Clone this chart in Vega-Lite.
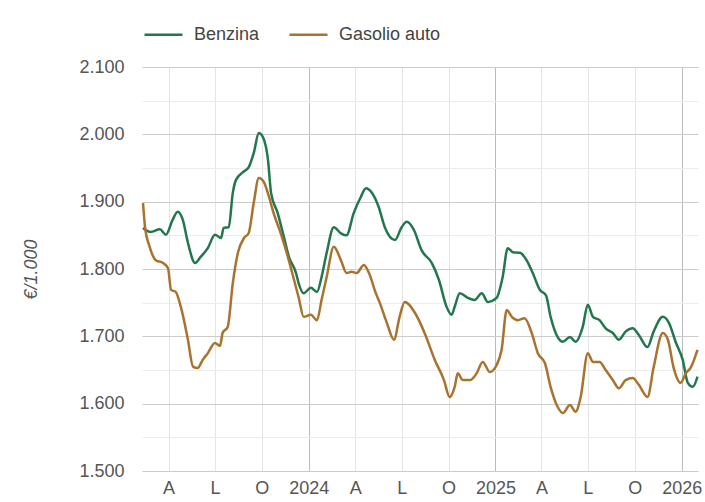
{
  "$schema": "https://vega.github.io/schema/vega-lite/v6.json",
  "width": 556,
  "height": 404,
  "autosize": {"type": "none"},
  "padding": {"left": 142, "top": 67, "right": 7, "bottom": 31},
  "config": {"view": {"stroke": null}, "font": "Arial, Liberation Sans, sans-serif", "background": "white"},
  "datasets": {
    "fuel": [
      {"d": "2023-02-10", "s": "Benzina", "v": 1861},
      {"d": "2023-02-25", "s": "Benzina", "v": 1855},
      {"d": "2023-03-15", "s": "Benzina", "v": 1859},
      {"d": "2023-03-27", "s": "Benzina", "v": 1851},
      {"d": "2023-04-09", "s": "Benzina", "v": 1873},
      {"d": "2023-04-19", "s": "Benzina", "v": 1885},
      {"d": "2023-04-29", "s": "Benzina", "v": 1873},
      {"d": "2023-05-09", "s": "Benzina", "v": 1839},
      {"d": "2023-05-23", "s": "Benzina", "v": 1809},
      {"d": "2023-06-03", "s": "Benzina", "v": 1818},
      {"d": "2023-06-17", "s": "Benzina", "v": 1831},
      {"d": "2023-07-01", "s": "Benzina", "v": 1851},
      {"d": "2023-07-13", "s": "Benzina", "v": 1846},
      {"d": "2023-07-18", "s": "Benzina", "v": 1861},
      {"d": "2023-07-28", "s": "Benzina", "v": 1862},
      {"d": "2023-08-05", "s": "Benzina", "v": 1913},
      {"d": "2023-08-11", "s": "Benzina", "v": 1932},
      {"d": "2023-08-25", "s": "Benzina", "v": 1944},
      {"d": "2023-09-05", "s": "Benzina", "v": 1951},
      {"d": "2023-09-15", "s": "Benzina", "v": 1972},
      {"d": "2023-09-25", "s": "Benzina", "v": 2002},
      {"d": "2023-10-03", "s": "Benzina", "v": 1996},
      {"d": "2023-10-13", "s": "Benzina", "v": 1962},
      {"d": "2023-10-19", "s": "Benzina", "v": 1913},
      {"d": "2023-11-01", "s": "Benzina", "v": 1883},
      {"d": "2023-11-13", "s": "Benzina", "v": 1848},
      {"d": "2023-11-23", "s": "Benzina", "v": 1818},
      {"d": "2023-12-07", "s": "Benzina", "v": 1794},
      {"d": "2023-12-12", "s": "Benzina", "v": 1779},
      {"d": "2023-12-22", "s": "Benzina", "v": 1764},
      {"d": "2024-01-05", "s": "Benzina", "v": 1772},
      {"d": "2024-01-17", "s": "Benzina", "v": 1766},
      {"d": "2024-01-26", "s": "Benzina", "v": 1788},
      {"d": "2024-02-05", "s": "Benzina", "v": 1824},
      {"d": "2024-02-19", "s": "Benzina", "v": 1862},
      {"d": "2024-03-04", "s": "Benzina", "v": 1853},
      {"d": "2024-03-15", "s": "Benzina", "v": 1850},
      {"d": "2024-03-29", "s": "Benzina", "v": 1883},
      {"d": "2024-04-12", "s": "Benzina", "v": 1907},
      {"d": "2024-04-22", "s": "Benzina", "v": 1920},
      {"d": "2024-05-03", "s": "Benzina", "v": 1914},
      {"d": "2024-05-17", "s": "Benzina", "v": 1892},
      {"d": "2024-05-29", "s": "Benzina", "v": 1862},
      {"d": "2024-06-18", "s": "Benzina", "v": 1843},
      {"d": "2024-07-01", "s": "Benzina", "v": 1862},
      {"d": "2024-07-11", "s": "Benzina", "v": 1870},
      {"d": "2024-07-25", "s": "Benzina", "v": 1858},
      {"d": "2024-08-09", "s": "Benzina", "v": 1828},
      {"d": "2024-08-29", "s": "Benzina", "v": 1809},
      {"d": "2024-09-12", "s": "Benzina", "v": 1784},
      {"d": "2024-09-27", "s": "Benzina", "v": 1744},
      {"d": "2024-10-07", "s": "Benzina", "v": 1732},
      {"d": "2024-10-13", "s": "Benzina", "v": 1744},
      {"d": "2024-10-23", "s": "Benzina", "v": 1764},
      {"d": "2024-11-08", "s": "Benzina", "v": 1757},
      {"d": "2024-11-21", "s": "Benzina", "v": 1754},
      {"d": "2024-12-05", "s": "Benzina", "v": 1764},
      {"d": "2024-12-17", "s": "Benzina", "v": 1751},
      {"d": "2025-01-03", "s": "Benzina", "v": 1757},
      {"d": "2025-01-15", "s": "Benzina", "v": 1788},
      {"d": "2025-01-25", "s": "Benzina", "v": 1831},
      {"d": "2025-02-04", "s": "Benzina", "v": 1825},
      {"d": "2025-02-18", "s": "Benzina", "v": 1824},
      {"d": "2025-03-03", "s": "Benzina", "v": 1813},
      {"d": "2025-03-15", "s": "Benzina", "v": 1794},
      {"d": "2025-03-29", "s": "Benzina", "v": 1769},
      {"d": "2025-04-10", "s": "Benzina", "v": 1761},
      {"d": "2025-04-19", "s": "Benzina", "v": 1729},
      {"d": "2025-04-29", "s": "Benzina", "v": 1705},
      {"d": "2025-05-13", "s": "Benzina", "v": 1692},
      {"d": "2025-05-27", "s": "Benzina", "v": 1699},
      {"d": "2025-06-07", "s": "Benzina", "v": 1692},
      {"d": "2025-06-21", "s": "Benzina", "v": 1714},
      {"d": "2025-07-01", "s": "Benzina", "v": 1747},
      {"d": "2025-07-11", "s": "Benzina", "v": 1729},
      {"d": "2025-07-24", "s": "Benzina", "v": 1724},
      {"d": "2025-08-05", "s": "Benzina", "v": 1712},
      {"d": "2025-08-19", "s": "Benzina", "v": 1705},
      {"d": "2025-08-31", "s": "Benzina", "v": 1695},
      {"d": "2025-09-13", "s": "Benzina", "v": 1707},
      {"d": "2025-09-27", "s": "Benzina", "v": 1712},
      {"d": "2025-10-09", "s": "Benzina", "v": 1702},
      {"d": "2025-10-26", "s": "Benzina", "v": 1684},
      {"d": "2025-11-07", "s": "Benzina", "v": 1707},
      {"d": "2025-11-25", "s": "Benzina", "v": 1729},
      {"d": "2025-12-07", "s": "Benzina", "v": 1720},
      {"d": "2025-12-20", "s": "Benzina", "v": 1692},
      {"d": "2026-01-03", "s": "Benzina", "v": 1665},
      {"d": "2026-01-13", "s": "Benzina", "v": 1631},
      {"d": "2026-01-23", "s": "Benzina", "v": 1625},
      {"d": "2026-02-01", "s": "Benzina", "v": 1640},
      {"d": "2023-02-10", "s": "Gasolio auto", "v": 1898},
      {"d": "2023-02-14", "s": "Gasolio auto", "v": 1862},
      {"d": "2023-02-23", "s": "Gasolio auto", "v": 1833},
      {"d": "2023-03-07", "s": "Gasolio auto", "v": 1813},
      {"d": "2023-03-21", "s": "Gasolio auto", "v": 1809},
      {"d": "2023-03-31", "s": "Gasolio auto", "v": 1801},
      {"d": "2023-04-06", "s": "Gasolio auto", "v": 1769},
      {"d": "2023-04-15", "s": "Gasolio auto", "v": 1766},
      {"d": "2023-04-25", "s": "Gasolio auto", "v": 1744},
      {"d": "2023-05-09", "s": "Gasolio auto", "v": 1695},
      {"d": "2023-05-19", "s": "Gasolio auto", "v": 1655},
      {"d": "2023-05-28", "s": "Gasolio auto", "v": 1653},
      {"d": "2023-06-07", "s": "Gasolio auto", "v": 1665},
      {"d": "2023-06-17", "s": "Gasolio auto", "v": 1675},
      {"d": "2023-07-01", "s": "Gasolio auto", "v": 1690},
      {"d": "2023-07-11", "s": "Gasolio auto", "v": 1686},
      {"d": "2023-07-16", "s": "Gasolio auto", "v": 1705},
      {"d": "2023-07-26", "s": "Gasolio auto", "v": 1714},
      {"d": "2023-08-05", "s": "Gasolio auto", "v": 1779},
      {"d": "2023-08-15", "s": "Gasolio auto", "v": 1824},
      {"d": "2023-08-27", "s": "Gasolio auto", "v": 1846},
      {"d": "2023-09-05", "s": "Gasolio auto", "v": 1853},
      {"d": "2023-09-15", "s": "Gasolio auto", "v": 1898},
      {"d": "2023-09-25", "s": "Gasolio auto", "v": 1935},
      {"d": "2023-10-05", "s": "Gasolio auto", "v": 1929},
      {"d": "2023-10-15", "s": "Gasolio auto", "v": 1907},
      {"d": "2023-10-24", "s": "Gasolio auto", "v": 1883},
      {"d": "2023-11-07", "s": "Gasolio auto", "v": 1853},
      {"d": "2023-11-21", "s": "Gasolio auto", "v": 1818},
      {"d": "2023-12-03", "s": "Gasolio auto", "v": 1784},
      {"d": "2023-12-12", "s": "Gasolio auto", "v": 1758},
      {"d": "2023-12-22", "s": "Gasolio auto", "v": 1729},
      {"d": "2024-01-05", "s": "Gasolio auto", "v": 1732},
      {"d": "2024-01-17", "s": "Gasolio auto", "v": 1724},
      {"d": "2024-01-26", "s": "Gasolio auto", "v": 1754},
      {"d": "2024-02-05", "s": "Gasolio auto", "v": 1788},
      {"d": "2024-02-19", "s": "Gasolio auto", "v": 1833},
      {"d": "2024-03-04", "s": "Gasolio auto", "v": 1813},
      {"d": "2024-03-15", "s": "Gasolio auto", "v": 1794},
      {"d": "2024-03-25", "s": "Gasolio auto", "v": 1796},
      {"d": "2024-04-04", "s": "Gasolio auto", "v": 1794},
      {"d": "2024-04-18", "s": "Gasolio auto", "v": 1806},
      {"d": "2024-04-28", "s": "Gasolio auto", "v": 1794},
      {"d": "2024-05-11", "s": "Gasolio auto", "v": 1765},
      {"d": "2024-05-19", "s": "Gasolio auto", "v": 1750},
      {"d": "2024-06-02", "s": "Gasolio auto", "v": 1720},
      {"d": "2024-06-16", "s": "Gasolio auto", "v": 1695},
      {"d": "2024-06-27", "s": "Gasolio auto", "v": 1729},
      {"d": "2024-07-07", "s": "Gasolio auto", "v": 1751},
      {"d": "2024-07-27", "s": "Gasolio auto", "v": 1735},
      {"d": "2024-08-15", "s": "Gasolio auto", "v": 1705},
      {"d": "2024-09-04", "s": "Gasolio auto", "v": 1665},
      {"d": "2024-09-22", "s": "Gasolio auto", "v": 1635},
      {"d": "2024-10-03", "s": "Gasolio auto", "v": 1610},
      {"d": "2024-10-13", "s": "Gasolio auto", "v": 1625},
      {"d": "2024-10-19", "s": "Gasolio auto", "v": 1645},
      {"d": "2024-10-29", "s": "Gasolio auto", "v": 1635},
      {"d": "2024-11-12", "s": "Gasolio auto", "v": 1635},
      {"d": "2024-11-25", "s": "Gasolio auto", "v": 1645},
      {"d": "2024-12-07", "s": "Gasolio auto", "v": 1662},
      {"d": "2024-12-21", "s": "Gasolio auto", "v": 1647},
      {"d": "2025-01-03", "s": "Gasolio auto", "v": 1657},
      {"d": "2025-01-13", "s": "Gasolio auto", "v": 1680},
      {"d": "2025-01-23", "s": "Gasolio auto", "v": 1739},
      {"d": "2025-02-02", "s": "Gasolio auto", "v": 1729},
      {"d": "2025-02-14", "s": "Gasolio auto", "v": 1724},
      {"d": "2025-02-27", "s": "Gasolio auto", "v": 1727},
      {"d": "2025-03-13", "s": "Gasolio auto", "v": 1705},
      {"d": "2025-03-25", "s": "Gasolio auto", "v": 1675},
      {"d": "2025-04-08", "s": "Gasolio auto", "v": 1660},
      {"d": "2025-04-19", "s": "Gasolio auto", "v": 1625},
      {"d": "2025-05-03", "s": "Gasolio auto", "v": 1595},
      {"d": "2025-05-13", "s": "Gasolio auto", "v": 1586},
      {"d": "2025-05-27", "s": "Gasolio auto", "v": 1598},
      {"d": "2025-06-07", "s": "Gasolio auto", "v": 1588},
      {"d": "2025-06-17", "s": "Gasolio auto", "v": 1610},
      {"d": "2025-07-01", "s": "Gasolio auto", "v": 1675},
      {"d": "2025-07-11", "s": "Gasolio auto", "v": 1662},
      {"d": "2025-07-24", "s": "Gasolio auto", "v": 1662},
      {"d": "2025-08-05", "s": "Gasolio auto", "v": 1650},
      {"d": "2025-08-19", "s": "Gasolio auto", "v": 1635},
      {"d": "2025-08-31", "s": "Gasolio auto", "v": 1623},
      {"d": "2025-09-13", "s": "Gasolio auto", "v": 1635},
      {"d": "2025-09-27", "s": "Gasolio auto", "v": 1638},
      {"d": "2025-10-09", "s": "Gasolio auto", "v": 1628},
      {"d": "2025-10-26", "s": "Gasolio auto", "v": 1610},
      {"d": "2025-11-07", "s": "Gasolio auto", "v": 1654},
      {"d": "2025-11-25", "s": "Gasolio auto", "v": 1705},
      {"d": "2025-12-05", "s": "Gasolio auto", "v": 1695},
      {"d": "2025-12-16", "s": "Gasolio auto", "v": 1654},
      {"d": "2025-12-30", "s": "Gasolio auto", "v": 1631},
      {"d": "2026-01-09", "s": "Gasolio auto", "v": 1645},
      {"d": "2026-01-19", "s": "Gasolio auto", "v": 1654},
      {"d": "2026-02-01", "s": "Gasolio auto", "v": 1680}
    ]
  },
  "data": {"name": "fuel"},
  "mark": {"type": "line", "interpolate": "monotone", "strokeWidth": 2.5},
  "encoding": {
    "x": {
      "field": "d",
      "type": "temporal",
      "scale": {"domain": [{"year": 2023, "month": 2, "date": 8}, {"year": 2026, "month": 2, "date": 2}]},
      "axis": {
        "title": null,
        "values": [
          {"year": 2023, "month": 4, "date": 1}, {"year": 2023, "month": 7, "date": 1}, {"year": 2023, "month": 10, "date": 1},
          {"year": 2024, "month": 1, "date": 1}, {"year": 2024, "month": 4, "date": 1}, {"year": 2024, "month": 7, "date": 1}, {"year": 2024, "month": 10, "date": 1},
          {"year": 2025, "month": 1, "date": 1}, {"year": 2025, "month": 4, "date": 1}, {"year": 2025, "month": 7, "date": 1}, {"year": 2025, "month": 10, "date": 1},
          {"year": 2026, "month": 1, "date": 1}
        ],
        "labelExpr": "month(datum.value) == 0 ? timeFormat(datum.value, '%Y') : (month(datum.value) == 3 ? 'A' : (month(datum.value) == 6 ? 'L' : 'O'))",
        "domain": false,
        "ticks": false,
        "labelFontSize": 18,
        "labelColor": "#555555",
        "labelPadding": 8,
        "labelFlush": false,
        "labelOverlap": false,
        "gridColor": {"condition": {"test": "month(datum.value) == 0", "value": "#bbbbbb"}, "value": "#e4e4e4"},
        "gridWidth": 1
      }
    },
    "y": {
      "field": "v",
      "type": "quantitative",
      "scale": {"domain": [1500, 2100], "nice": false, "zero": false},
      "axis": {
        "title": "€/1.000",
        "titleFontStyle": "italic",
        "titleFontWeight": "normal",
        "titleFontSize": 18,
        "titleColor": "#555555",
        "titlePadding": 38,
        "values": [1500, 1550, 1600, 1650, 1700, 1750, 1800, 1850, 1900, 1950, 2000, 2050, 2100],
        "labelExpr": "datum.value % 100 == 0 ? replace(format(datum.value, ','), ',', '.') : ''",
        "gridColor": {"condition": {"test": "datum.value % 100 != 0", "value": "#ececec"}, "value": "#cccccc"},
        "domain": false,
        "ticks": false,
        "labelPadding": 18,
        "labelFontSize": 18,
        "labelColor": "#555555"
      }
    },
    "color": {
      "field": "s",
      "type": "nominal",
      "scale": {"domain": ["Benzina", "Gasolio auto"], "range": ["#23774e", "#a8732f"]},
      "legend": {
        "title": null,
        "orient": "none",
        "legendX": 1,
        "legendY": -53,
        "direction": "horizontal",
        "symbolType": "stroke",
        "symbolSize": 1444,
        "symbolStrokeWidth": 2.5,
        "labelFontSize": 18,
        "labelColor": "#444444",
        "labelOffset": 10,
        "columnPadding": 24,
        "padding": 0
      }
    }
  }
}
